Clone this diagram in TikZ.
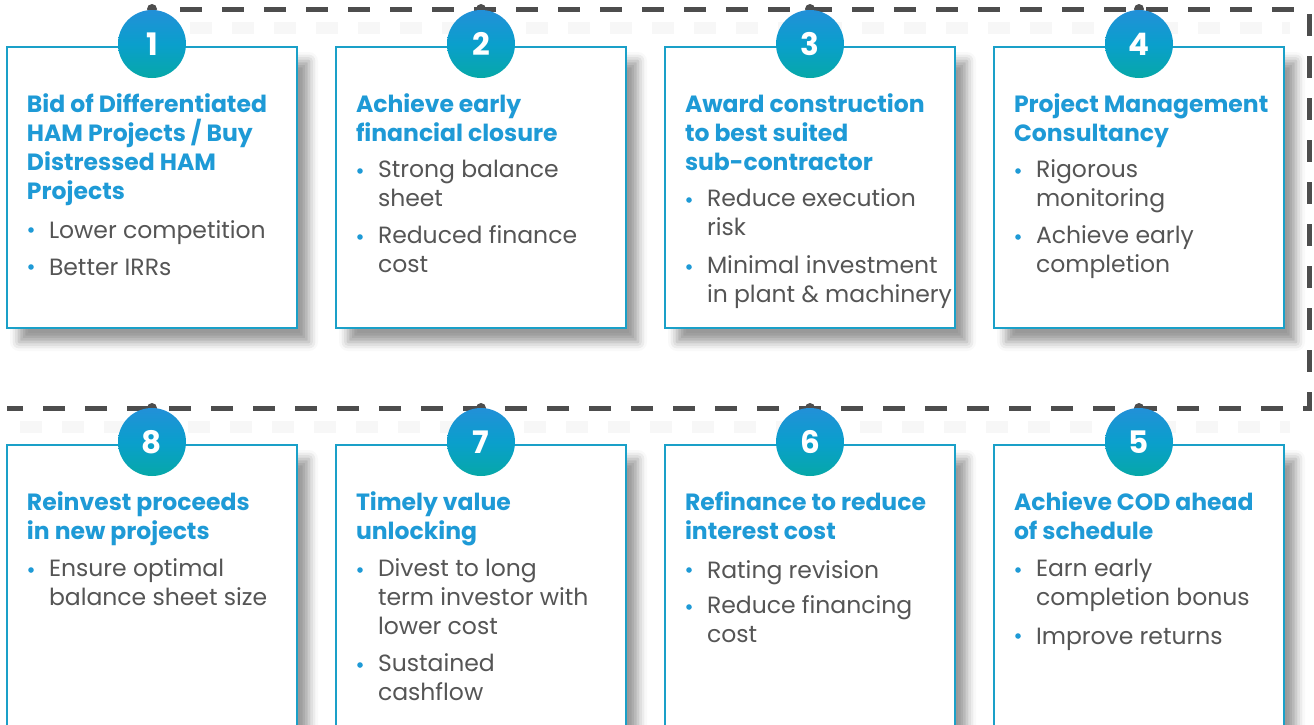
\documentclass[tikz,border=0pt]{standalone}
\usepackage{fontspec}
\setmainfont{Poppins}
\usetikzlibrary{shadows.blur}

\definecolor{dashgray}{HTML}{4D4D4D}
\definecolor{headblue}{HTML}{1E9AD6}
\definecolor{bodygray}{HTML}{555555}
\definecolor{cardline}{HTML}{1AA0C8}
\definecolor{badgeblue}{HTML}{2290D8}
\definecolor{badgemid}{HTML}{0A9FCC}
\definecolor{badgeteal}{HTML}{06A8A8}

\tikzset{
  card/.style={draw=cardline, line width=1.2pt, fill=white, anchor=north west,
    minimum width=290pt, minimum height=#1, inner sep=0pt, outer sep=0pt,
    blur shadow={shadow xshift=12pt, shadow yshift=-14pt,
      shadow blur radius=9pt, shadow opacity=40}},
  heading/.style={anchor=north west, inner sep=0pt, outer sep=0pt, align=left,
    text=headblue, font=\fontsize{23.5}{29}\selectfont\bfseries,
    execute at begin node={\rule{0pt}{19pt}}},
  bodytext/.style={anchor=north west, inner sep=0pt, outer sep=0pt, align=left,
    text=bodygray, font=\fontsize{23.5}{29}\selectfont,
    execute at begin node={\rule{0pt}{19pt}}},
  badge/.style={circle, minimum size=68pt, inner sep=0pt, text=white,
    shading angle=45, top color=badgeblue, bottom color=badgeteal,
    middle color=badgemid, font=\fontsize{31}{31}\selectfont\bfseries},
  knot/.style={circle, fill=dashgray, minimum size=10pt, inner sep=0pt},
  trail/.style={draw=dashgray, line width=5pt, dash pattern=on 22pt off 20pt,
    dash phase=28pt},
  trailshade/.style={draw=black, opacity=0.03, line width=12pt,
    dash pattern=on 22pt off 20pt}
}

% bullet marker: dot centred on the x-height of a line whose baseline is #2
\newcommand\bulletdot[2]{\fill[headblue] (#1,#2-7) circle (2.8pt);}

\begin{document}
\begin{tikzpicture}[x=1pt, y=-1pt]
\useasboundingbox (0,0) rectangle (1314,724);
\clip (0,0) rectangle (1314,724);

% faint shadow under the horizontal runs of the dashed route
\path[trailshade] (190,28) -- (1290,28);
\path[trailshade] (20,427) -- (1290,427);

% the dashed route linking the steps
\coordinate (r0) at (166,9);
\coordinate (r1) at (1309,9);
\coordinate (r2) at (1309,408);
\coordinate (r3) at (7,408);
\draw[trail] (r0) -- (r1) -- (r2) -- (r3);

% ---------- cards ----------
\node[card=281pt] (c1) at (7,47) {};
\node[card=281pt] (c2) at (336,47) {};
\node[card=281pt] (c3) at (665,47) {};
\node[card=281pt] (c4) at (994,47) {};
\node[card=320pt] (c8) at (7,445) {};
\node[card=320pt] (c7) at (336,445) {};
\node[card=320pt] (c6) at (665,445) {};
\node[card=320pt] (c5) at (994,445) {};

% ---------- knots and badges ----------
\foreach \n/\x in {1/152,2/481,3/810,4/1139}{
  \node[knot] (k\n) at (\x,9) {};
  \node[badge] (b\n) at (\x,44) {\n};
}
\foreach \n/\x in {8/152,7/481,6/810,5/1139}{
  \node[knot] (k\n) at (\x,408) {};
  \node[badge] (b\n) at (\x,442) {\n};
}

% ---------- step 1 ----------
\node[heading] (h1) at (27,94) {Bid of Differentiated\\HAM Projects / Buy\\Distressed HAM\\Projects};
\bulletdot{31}{237}
\node[bodytext] (p1a) at (49,219) {Lower competition};
\bulletdot{31}{274}
\node[bodytext] (p1b) at (49,256) {Better IRRs};

% ---------- step 2 ----------
\node[heading] (h2) at (356,94) {Achieve early\\financial closure};
\bulletdot{360}{178}
\node[bodytext] (p2a) at (378,160) {Strong balance\\sheet};
\bulletdot{360}{244}
\node[bodytext] (p2b) at (378,226) {Reduced finance\\cost};

% ---------- step 3 ----------
\node[heading] (h3) at (685,94) {Award construction\\to best suited\\sub-contractor};
\bulletdot{689}{207}
\node[bodytext] (p3a) at (707,189) {Reduce execution\\risk};
\bulletdot{689}{274}
\node[bodytext] (p3b) at (707,256) {Minimal investment\\in plant \& machinery};

% ---------- step 4 ----------
\node[heading] (h4) at (1014,94) {Project Management\\Consultancy};
\bulletdot{1018}{178}
\node[bodytext] (p4a) at (1036,160) {Rigorous\\monitoring};
\bulletdot{1018}{244}
\node[bodytext] (p4b) at (1036,226) {Achieve early\\completion};

% ---------- step 8 ----------
\node[heading] (h8) at (27,492) {Reinvest proceeds\\in new projects};
\bulletdot{31}{577}
\node[bodytext] (p8a) at (49,559) {Ensure optimal\\balance sheet size};

% ---------- step 7 ----------
\node[heading] (h7) at (356,492) {Timely value\\unlocking};
\bulletdot{360}{577}
\node[bodytext] (p7a) at (378,559) {Divest to long\\term investor with\\lower cost};
\bulletdot{360}{672}
\node[bodytext] (p7b) at (378,654) {Sustained\\cashflow};

% ---------- step 6 ----------
\node[heading] (h6) at (685,492) {Refinance to reduce\\interest cost};
\bulletdot{689}{577}
\node[bodytext] (p6a) at (707,559) {Rating revision};
\bulletdot{689}{614}
\node[bodytext] (p6b) at (707,596) {Reduce financing\\cost};

% ---------- step 5 ----------
\node[heading] (h5) at (1014,492) {Achieve COD ahead\\of schedule};
\bulletdot{1018}{577}
\node[bodytext] (p5a) at (1036,559) {Earn early\\completion bonus};
\bulletdot{1018}{643}
\node[bodytext] (p5b) at (1036,625) {Improve returns};

\end{tikzpicture}
\end{document}
